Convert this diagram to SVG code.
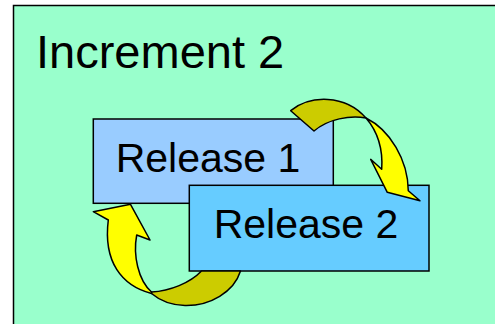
<svg xmlns="http://www.w3.org/2000/svg" width="495" height="324" viewBox="0 0 495 324">
<style>
  .lbl { font-family: "Liberation Sans", Arial, sans-serif; fill: #000; }
  .box { stroke: #000; stroke-width: 1.5; }
  .arr { stroke: #000; stroke-width: 1.5; stroke-linejoin: round; }
  .front { fill: #FFFF00; }
  .back { fill: #CCCC00; }
</style>
<rect x="0" y="0" width="495" height="324" fill="#FFFFFF"/>
<g id="increment-2">
  <rect x="13.5" y="5.5" width="500" height="340" fill="#99FFCC" class="box"/>
  <text x="36" y="68" class="lbl" font-size="47">Increment 2</text>
</g>
<g id="release-1">
  <rect x="93.3" y="119" width="240" height="84.3" fill="#99CCFF" class="box"/>
  <text x="208" y="171.5" class="lbl" font-size="41" text-anchor="middle">Release 1</text>
</g>
<g id="release-2">
  <rect x="189.3" y="185.3" width="239.7" height="85.7" fill="#66CCFF" class="box"/>
  <text x="306" y="238.3" class="lbl" font-size="41" text-anchor="middle">Release 2</text>
</g>
<g id="connectors">
  <g id="arrow-r1-to-r2">
    <path class="arr back" d="M290.7,110.7 C310,95 345,94 366,118 C350,115 328,119 314,131 Z"/>
    <path class="arr front" d="M366,118 C390,130 408,160 408.3,190.7 L420,200.7 L387.3,192.3 L370.7,159.3 L381.7,169.3 C383,150 378,132 366,118 Z"/>
  </g>
  <g id="arrow-r2-to-r1">
    <path class="arr back" d="M151.5,292 C170,291 190,283 201.5,271 L240.5,271 C234,292 210,306 185,305.5 C168,305 158,299 151.5,293.5 Z"/>
    <path class="arr front" d="M151.5,293.5 C122,286 103,262 108.3,220 L93.3,211.7 L130.5,204.3 L150,240 L136.7,235 C133,255 138,280 151.5,292 Z"/>
  </g>
</g>
</svg>
